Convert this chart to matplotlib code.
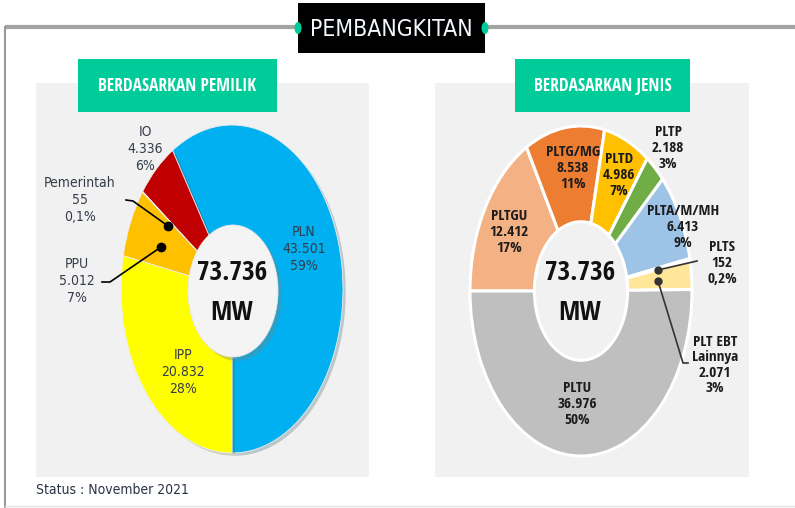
import matplotlib
matplotlib.use('Agg')
import matplotlib.pyplot as plt
from matplotlib import font_manager
from matplotlib.font_manager import FontProperties
from matplotlib.patches import Rectangle, Ellipse
import matplotlib.patheffects as pe

# ---------------- data ----------------
owner_labels = ['PLN', 'IO', 'Pemerintah', 'PPU', 'IPP']
owner_values = [43501, 4336, 55, 5012, 20832]
owner_pcts = ['59%', '6%', '0,1%', '7%', '28%']
owner_colors = ['#00b0f0', '#c00000', '#d8bd8a', '#ffc000', '#ffff00']

type_labels = ['PLTGU', 'PLTG/MG', 'PLTD', 'PLTP', 'PLTA/M/MH', 'PLTS',
               'PLT EBT\nLainnya', 'PLTU']
type_values = [12412, 8538, 4986, 2188, 6413, 152, 2071, 36976]
type_pcts = ['17%', '11%', '7%', '3%', '9%', '0,2%', '3%', '50%']
type_colors = ['#f4b183', '#ed7d31', '#ffc000', '#70ad47', '#9dc3e6',
               '#ffe699', '#ffe699', '#bfbfbf']

title = 'PEMBANGKITAN'
left_header = 'BERDASARKAN PEMILIK'
right_header = 'BERDASARKAN JENIS'
status = 'Status : November 2021'
unit = 'MW'

total_mw = sum(owner_values)

# ---------------- fonts: look for condensed sans faces ----------------
STRETCH = {'ultra-condensed': 100, 'extra-condensed': 200, 'condensed': 300,
           'semi-condensed': 400, 'normal': 500, 'semi-expanded': 600,
           'expanded': 700, 'extra-expanded': 800, 'ultra-expanded': 900}
WEIGHT = {'ultralight': 100, 'light': 300, 'normal': 400, 'regular': 400,
          'book': 400, 'medium': 500, 'roman': 500, 'semibold': 600,
          'demibold': 600, 'demi': 600, 'bold': 700, 'heavy': 800,
          'extra bold': 800, 'black': 900}


def _stretch(f):
    s = f.stretch
    if isinstance(s, str):
        s = STRETCH.get(s.lower(), 500)
    s = int(s)
    nm = f.name.lower()
    if s == 500 and 'narrow' in nm:
        s = 400
    if s == 500 and 'condensed' in nm:
        s = 300
    return s


def _weight(f):
    w = f.weight
    if isinstance(w, str):
        return WEIGHT.get(w.lower(), 400)
    return int(w)


PREF = ['Liberation Sans Narrow', 'Open Sans', 'Noto Sans', 'DejaVu Sans',
        'Roboto', 'Lato', 'Inter']


def _find(bold, target):
    cands = []
    for f in font_manager.fontManager.ttflist:
        nm = f.name
        if any(k in nm for k in ('Serif', 'Mono', 'CJK', 'Math', 'Display')):
            continue
        if f.style != 'normal':
            continue
        s = _stretch(f)
        if s >= 500:
            continue
        w = _weight(f)
        tw = 700 if bold else 400
        if bold and w < 600:
            continue
        if not bold and (w < 350 or w > 500):
            continue
        rank = next((i for i, p in enumerate(PREF) if nm.startswith(p)), 99)
        cands.append((abs(s - target), rank, abs(w - tw), f.fname))
    cands.sort()
    return cands[0][3] if cands else None


def fp(size, bold=False, target=400):
    path = _find(bold, target)
    if path:
        return FontProperties(fname=path, size=size)
    return FontProperties(family='Liberation Sans',
                          weight='bold' if bold else 'normal', size=size * 0.84)


def fmt(v):
    return f'{v:,}'.replace(',', '.')


W, H = 795, 508
fig = plt.figure(figsize=(W / 100, H / 100), dpi=100)
fig.patch.set_facecolor('white')

bg = fig.add_axes([0, 0, 1, 1], zorder=0)
bg.set_xlim(0, W)
bg.set_ylim(H, 0)
bg.axis('off')

# frame lines
bg.plot([5, 298], [27, 27], color='#a3a3a3', lw=3, solid_capstyle='butt')
bg.plot([485, W], [27, 27], color='#a3a3a3', lw=3, solid_capstyle='butt')
bg.plot([5, 5], [27, H], color='#9a9a9a', lw=1.5)
bg.plot([5, W], [506, 506], color='#e4e4e4', lw=1)

# title box
bg.add_patch(Rectangle((298, 3), 187, 50, fc='black', ec='none', zorder=2))
bg.text(391.5, 29, title, color='#f4f8ff', fontproperties=fp(16.5, False, 300),
        ha='center', va='center', zorder=3)
for x in (298, 485):
    bg.add_patch(Ellipse((x, 28), 7, 12, fc='#00c99a', ec='none', zorder=4))

# panels
bg.add_patch(Rectangle((36, 83), 333, 394, fc='#f1f1f1', ec='none'))
bg.add_patch(Rectangle((435, 83), 314, 394, fc='#f1f1f1', ec='none'))
bg.add_patch(Rectangle((78, 59), 199, 53, fc='#00cc99', ec='none', zorder=2))
bg.add_patch(Rectangle((515, 59), 175, 53, fc='#00cc99', ec='none', zorder=2))
bg.text(177.5, 86, left_header, color='white', fontproperties=fp(12.5, True, 300),
        ha='center', va='center', zorder=3)
bg.text(602.5, 86, right_header, color='white', fontproperties=fp(12.5, True, 300),
        ha='center', va='center', zorder=3)
bg.text(36, 490, status, color='#2a3245', fontproperties=fp(10, False, 300),
        ha='left', va='center')


def pie_axes(cx, cy, rx, ry):
    return fig.add_axes([(cx - rx) / W, 1 - (cy + ry) / H, 2 * rx / W, 2 * ry / H],
                        zorder=1)


# ---------------- left donut ----------------
axL = pie_axes(232, 289, 111, 164)
wl, _ = axL.pie(owner_values, colors=owner_colors, startangle=-90,
                counterclock=True, radius=1,
                wedgeprops=dict(width=0.62, edgecolor='#eeeeee', linewidth=0.6))
for w in wl:
    w.set_clip_on(False)
    w.set_path_effects([pe.SimplePatchShadow(offset=(2, -2), alpha=0.22),
                        pe.Normal()])
axL.set_xlim(-1, 1)
axL.set_ylim(-1, 1)
axL.set_aspect('auto')
axL.axis('off')

# ---------------- right donut ----------------
axR = pie_axes(581, 291, 111, 165)
wr, _ = axR.pie(type_values, colors=type_colors, startangle=180,
                counterclock=False, radius=1,
                wedgeprops=dict(width=0.58, edgecolor='white', linewidth=2.2))
for w in wr:
    w.set_clip_on(False)
axR.set_xlim(-1, 1)
axR.set_ylim(-1, 1)
axR.set_aspect('auto')
axR.axis('off')

# ---------------- foreground ----------------
fg = fig.add_axes([0, 0, 1, 1], zorder=3)
fg.set_xlim(0, W)
fg.set_ylim(H, 0)
fg.axis('off')
fg.patch.set_alpha(0)

# left centre hole
fg.add_patch(Ellipse((237, 295), 90, 132, fc='#808080', alpha=0.35, ec='none'))
fg.add_patch(Ellipse((233, 291), 90, 132, fc='#f4f4f4', ec='#e6e6e6', lw=0.6))

for cx in (232, 580):
    fg.text(cx, 272, fmt(total_mw), fontproperties=fp(19.5, True, 400),
            color='#111111', ha='center', va='center')
    fg.text(cx, 313, unit, fontproperties=fp(19.5, True, 400),
            color='#111111', ha='center', va='center')

# left labels
left_pos = [(304, 249), (145, 149), (80, 200), (77, 281), (183, 372)]
for name, v, p, (x, y) in zip(owner_labels, owner_values, owner_pcts, left_pos):
    fg.text(x, y, f'{name}\n{fmt(v)}\n{p}', fontproperties=fp(10, False, 300),
            color='#353c4a', ha='center', va='center', linespacing=1.3)

# left leaders
fg.plot([126, 133, 168], [200, 201, 226], color='black', lw=1.2)
fg.plot([102, 110, 161], [282, 282, 247], color='black', lw=1.2)
fg.plot([168, 161], [226, 247], 'o', color='black', ms=6)

# right labels
right_pos = [(509, 232), (573, 168), (619, 175), (668, 148), (683, 227),
             (722, 263), (715, 365), (577, 404)]
for name, v, p, (x, y) in zip(type_labels, type_values, type_pcts, right_pos):
    fg.text(x, y, f'{name}\n{fmt(v)}\n{p}', fontproperties=fp(11, True, 400),
            color='#1c1c1c', ha='center', va='center', linespacing=1.15)

# right leaders
fg.plot([658, 697], [270, 261], color='#333333', lw=1.2)
fg.plot([658, 683, 688], [281, 363, 363], color='#333333', lw=1.2)
fg.plot([658, 658], [270, 281], 'o', color='#333333', ms=5)

fig.savefig('out.png', dpi=100, facecolor='white')
